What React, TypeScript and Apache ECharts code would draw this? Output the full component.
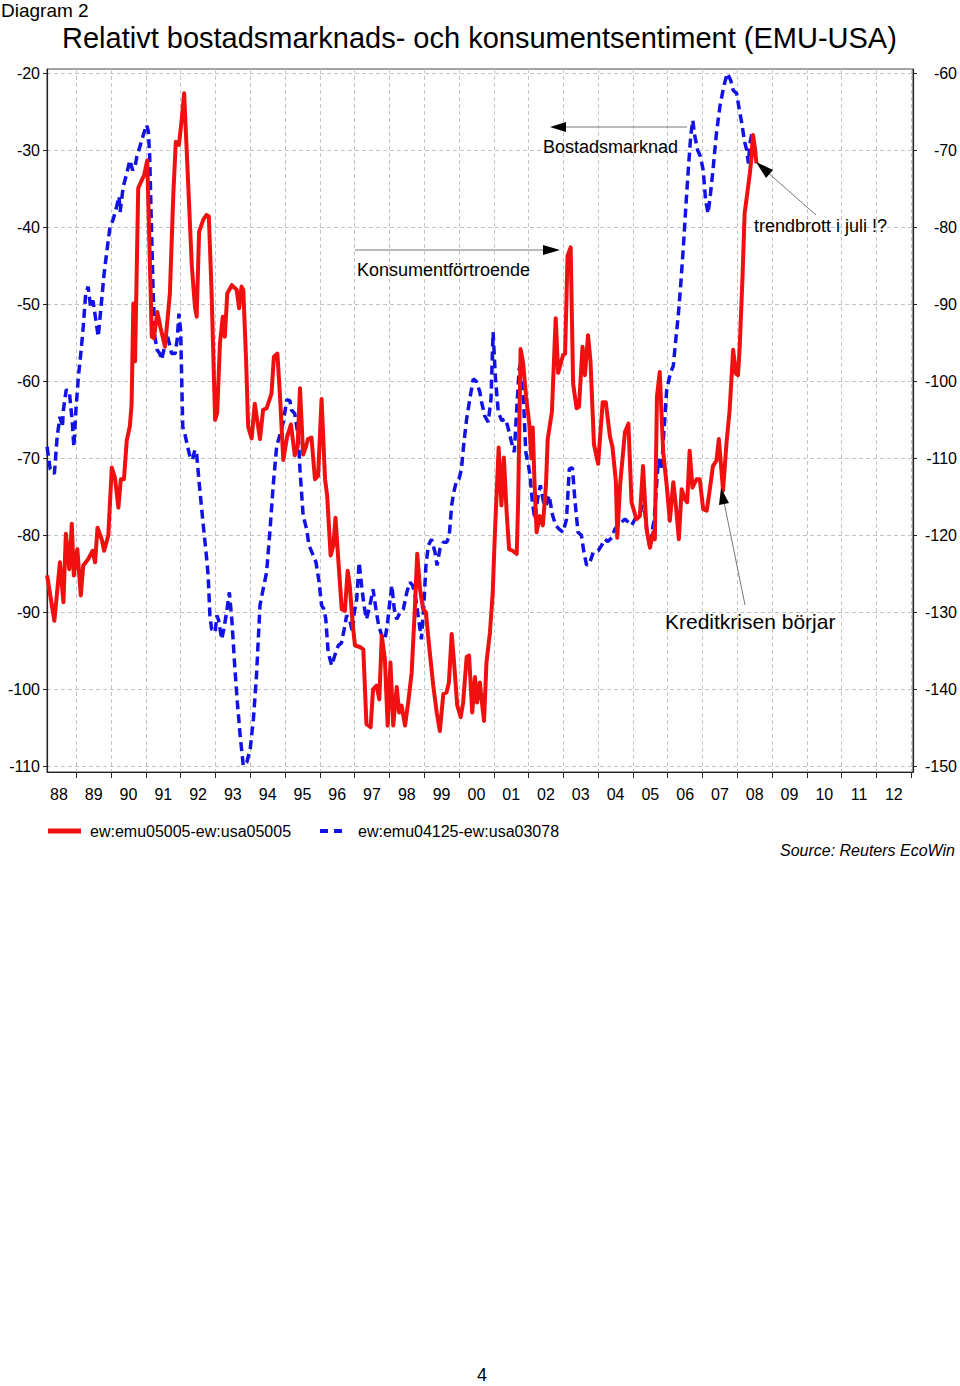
import React, { useEffect, useRef } from 'react';
import * as echarts from 'echarts';

// ---------- data ----------
const xLabels = ['88','89','90','91','92','93','94','95','96','97','98','99','00','01','02','03','04','05','06','07','08','09','10','11','12'];
const firstLabelYear = 1988;
const leftTicks = [-110, -100, -90, -80, -70, -60, -50, -40, -30, -20];
const rightTicks = [-150, -140, -130, -120, -110, -100, -90, -80, -70, -60];

const redName = 'ew:emu05005-ew:usa05005';
const blueName = 'ew:emu04125-ew:usa03078';

// red series (left axis), time in decimal years
const redDates = [
  1988.16,1988.37,1988.53,1988.63,1988.70,1988.80,1988.87,1988.93,1989.03,1989.13,1989.20,1989.34,1989.47,1989.54,1989.61,1989.73,1989.80,1989.92,
  1990.02,1990.11,1990.21,1990.28,1990.37,1990.45,1990.54,1990.59,1990.64,1990.69,1990.78,1990.95,1991.04,1991.17,1991.23,1991.33,1991.42,1991.55,
  1991.69,1991.79,1991.86,1991.95,1992.03,1992.10,1992.22,1992.32,1992.41,1992.46,1992.53,1992.65,1992.74,1992.81,1992.89,1992.99,1993.05,1993.13,
  1993.21,1993.27,1993.34,1993.47,1993.61,1993.68,1993.75,1993.80,1993.88,1993.94,1994.04,1994.13,1994.28,1994.37,1994.47,1994.61,1994.68,1994.78,
  1994.85,1994.95,1995.06,1995.17,1995.28,1995.36,1995.43,1995.52,1995.60,1995.66,1995.76,1995.86,1995.95,1996.05,1996.15,1996.21,1996.31,1996.39,
  1996.45,1996.53,1996.63,1996.72,1996.80,1996.86,1996.94,1997.01,1997.15,1997.25,1997.34,1997.46,1997.53,1997.63,1997.71,1997.78,1997.87,1997.95,
  1998.03,1998.11,1998.21,1998.28,1998.35,1998.45,1998.54,1998.64,1998.73,1998.80,1998.88,1998.97,1999.05,1999.14,1999.26,1999.36,1999.45,1999.55,
  1999.64,1999.71,1999.79,1999.85,1999.95,2000.05,2000.12,2000.22,2000.29,2000.38,2000.46,2000.52,2000.60,2000.65,2000.72,2000.79,2000.89,2000.97,
  2001.03,2001.14,2001.22,2001.29,2001.37,2001.44,2001.54,2001.66,2001.70,2001.77,2001.84,2001.93,2002.02,2002.08,2002.12,2002.17,2002.23,2002.32,
  2002.41,2002.50,2002.55,2002.67,2002.78,2002.85,2002.99,2003.05,2003.12,2003.21,2003.28,2003.38,2003.45,2003.55,2003.62,2003.71,2003.78,2003.88,
  2004.00,2004.13,2004.22,2004.34,2004.41,2004.51,2004.55,2004.63,2004.77,2004.87,2004.96,2005.10,2005.20,2005.29,2005.39,2005.49,2005.58,2005.63,
  2005.69,2005.77,2005.87,2005.97,2006.06,2006.16,2006.24,2006.32,2006.40,2006.49,2006.56,2006.63,2006.71,2006.83,2006.92,2007.02,2007.12,2007.21,
  2007.30,2007.40,2007.47,2007.52,2007.59,2007.69,2007.78,2007.88,2007.96,2008.02,2008.07,2008.15,2008.21,2008.26,2008.36,2008.40,2008.45,2008.50,
  2008.55,
];
const redValues = [
  -85.2,-91.1,-83.5,-88.7,-79.8,-84.4,-78.5,-85.2,-81.8,-87.8,-83.9,-83.1,-82.0,-83.5,-79.0,-80.5,-82.0,-80.0,
  -71.2,-72.5,-76.4,-72.7,-72.7,-67.7,-65.8,-63.0,-49.9,-57.4,-34.9,-33.2,-31.3,-54.2,-54.4,-51.0,-53.0,-55.5,
  -48.6,-35.6,-28.9,-29.3,-26.0,-22.6,-34.7,-45.0,-50.3,-51.6,-40.6,-39.0,-38.4,-38.6,-48.6,-65.0,-64.1,-55.0,
  -51.6,-54.2,-48.6,-47.5,-48.1,-50.5,-47.7,-48.1,-57.2,-65.9,-67.4,-62.9,-67.5,-63.7,-63.5,-61.6,-56.8,-56.4,
  -61.5,-70.2,-67.2,-65.6,-69.6,-68.5,-60.9,-69.5,-68.5,-67.5,-67.3,-72.7,-72.3,-62.3,-72.7,-74.8,-82.6,-81.3,
  -77.7,-83.1,-89.6,-89.8,-84.6,-86.5,-91.3,-94.3,-94.5,-94.8,-104.5,-104.9,-100.0,-99.5,-101.3,-93.0,-96.1,-104.7,
  -96.5,-104.7,-99.7,-103.0,-102.1,-104.7,-101.7,-97.8,-89.6,-82.4,-87.0,-89.6,-90.0,-94.3,-99.5,-103.0,-105.4,-100.6,
  -100.4,-99.1,-92.8,-96.0,-102.1,-103.6,-101.7,-95.8,-95.6,-103.0,-98.4,-101.7,-99.1,-101.3,-104.1,-96.5,-92.6,-87.4,
  -80.0,-68.6,-76.1,-69.9,-77.0,-81.8,-82.0,-82.4,-75.7,-55.8,-57.5,-62.0,-65.5,-70.0,-66.0,-73.0,-79.6,-77.5,
  -78.7,-73.5,-67.5,-64.0,-51.8,-58.9,-56.6,-56.4,-43.7,-42.6,-60.3,-63.5,-63.3,-55.5,-59.2,-54.0,-57.4,-68.2,
  -70.7,-62.7,-62.7,-67.2,-68.5,-73.0,-80.3,-73.5,-66.6,-65.5,-75.7,-77.9,-77.5,-71.0,-79.2,-81.6,-79.6,-80.5,
  -62.0,-58.8,-69.2,-73.5,-78.1,-73.1,-76.4,-80.5,-74.0,-75.3,-75.7,-69.0,-73.8,-72.7,-72.7,-76.6,-76.8,-74.0,
  -71.0,-70.3,-67.5,-70.2,-74.2,-68.0,-63.7,-55.9,-59.0,-59.2,-55.5,-46.4,-38.2,-36.5,-33.0,-31.3,-28.0,-29.5,
  -31.7,
];

// blue series (right axis)
const blueDates = [
  1988.16,1988.25,1988.37,1988.45,1988.53,1988.60,1988.63,1988.71,1988.80,1988.85,1988.88,1988.93,1988.99,1989.06,1989.13,1989.20,1989.27,1989.34,
  1989.41,1989.48,1989.56,1989.63,1989.73,1989.80,1989.87,1989.97,1990.06,1990.16,1990.23,1990.26,1990.35,1990.45,1990.54,1990.62,1990.69,1990.74,
  1990.83,1990.94,1991.02,1991.07,1991.11,1991.16,1991.21,1991.26,1991.32,1991.40,1991.45,1991.52,1991.60,1991.67,1991.74,1991.84,1991.90,1991.95,
  1992.00,1992.06,1992.12,1992.20,1992.27,1992.34,1992.41,1992.46,1992.53,1992.65,1992.73,1992.79,1992.84,1992.89,1992.99,1993.04,1993.09,1993.18,
  1993.24,1993.32,1993.40,1993.47,1993.56,1993.63,1993.71,1993.80,1993.90,1994.00,1994.09,1994.18,1994.28,1994.37,1994.47,1994.57,1994.66,1994.76,
  1994.85,1994.95,1995.05,1995.14,1995.18,1995.28,1995.38,1995.43,1995.52,1995.62,1995.69,1995.81,1995.89,1995.98,1996.05,1996.11,1996.17,1996.24,
  1996.34,1996.43,1996.53,1996.62,1996.70,1996.77,1996.86,1996.94,1996.99,1997.06,1997.13,1997.20,1997.27,1997.34,1997.44,1997.53,1997.61,1997.69,
  1997.78,1997.87,1997.94,1998.00,1998.07,1998.14,1998.21,1998.31,1998.40,1998.50,1998.59,1998.67,1998.76,1998.84,1998.92,1998.99,1999.05,1999.12,
  1999.21,1999.31,1999.37,1999.45,1999.55,1999.65,1999.72,1999.79,1999.85,1999.93,2000.00,2000.07,2000.14,2000.22,2000.31,2000.41,2000.50,2000.60,
  2000.65,2000.74,2000.84,2000.92,2000.98,2001.05,2001.13,2001.23,2001.34,2001.42,2001.51,2001.59,2001.66,2001.73,2001.79,2001.86,2001.92,2002.00,
  2002.04,2002.11,2002.18,2002.27,2002.34,2002.43,2002.50,2002.59,2002.69,2002.78,2002.88,2002.99,2003.09,2003.17,2003.26,2003.33,2003.42,2003.52,
  2003.59,2003.67,2003.76,2003.86,2004.00,2004.10,2004.19,2004.28,2004.39,2004.48,2004.57,2004.67,2004.77,2004.87,2004.96,2005.06,2005.18,2005.28,
  2005.34,2005.41,2005.49,2005.56,2005.61,2005.68,2005.73,2005.78,2005.82,2005.87,2005.97,2006.08,2006.16,2006.24,2006.30,2006.37,2006.45,2006.52,
  2006.59,2006.66,2006.72,2006.78,2006.86,2006.94,2007.02,2007.09,2007.16,2007.23,2007.30,2007.40,2007.50,2007.61,2007.71,2007.81,2007.88,2007.98,
  2008.06,2008.13,2008.20,2008.27,2008.32,2008.36,2008.42,2008.48,2008.53,
];
const blueValues = [
  -108.5,-111.4,-112.0,-107.2,-104.6,-105.9,-103.7,-101.1,-101.3,-103.7,-105.0,-108.5,-103.7,-99.4,-96.4,-92.9,-88.6,-87.7,
  -90.3,-89.5,-92.0,-94.2,-89.4,-86.0,-83.4,-79.9,-79.0,-77.3,-76.0,-78.0,-74.7,-73.0,-71.3,-72.6,-72.1,-70.8,
  -69.5,-67.8,-66.7,-67.5,-70.8,-79.9,-88.6,-94.2,-95.9,-96.4,-97.2,-95.9,-93.8,-95.0,-96.4,-96.4,-94.6,-91.2,
  -93.5,-105.9,-106.8,-108.5,-109.8,-110.2,-108.9,-109.5,-113.1,-118.7,-122.2,-125.2,-130.4,-132.2,-132.6,-130.4,-131.0,-133.5,
  -132.2,-130.0,-127.4,-130.9,-137.4,-141.7,-146.0,-149.9,-149.5,-147.7,-143.9,-138.2,-129.1,-127.0,-124.8,-119.2,-113.5,-108.4,
  -107.0,-105.3,-102.4,-102.5,-103.7,-104.2,-107.2,-111.5,-117.4,-119.2,-121.3,-122.6,-123.5,-126.1,-129.1,-129.5,-130.8,-135.2,
  -136.9,-135.6,-134.3,-134.0,-132.2,-130.4,-131.0,-132.6,-130.0,-128.3,-123.5,-126.5,-129.1,-130.9,-129.1,-127.0,-129.5,-131.7,
  -133.0,-133.5,-131.7,-129.1,-126.5,-129.6,-130.9,-130.0,-129.6,-127.4,-126.1,-126.5,-128.3,-130.9,-133.5,-129.1,-123.9,-121.3,
  -120.5,-122.2,-123.9,-121.8,-120.9,-120.9,-120.0,-116.1,-114.4,-112.9,-112.7,-111.4,-108.0,-104.9,-102.3,-99.7,-100.0,-101.4,
  -102.7,-104.5,-105.3,-102.3,-93.6,-99.7,-104.0,-105.1,-104.9,-106.2,-107.9,-109.2,-103.6,-98.4,-97.5,-103.0,-109.2,-111.0,
  -112.2,-115.7,-117.9,-115.0,-113.5,-115.7,-116.2,-114.8,-117.4,-118.7,-119.2,-119.6,-117.9,-111.4,-111.2,-115.3,-119.6,-120.0,
  -122.2,-123.9,-123.5,-122.2,-122.0,-121.3,-120.5,-120.8,-120.3,-119.2,-118.7,-118.3,-117.9,-118.3,-118.7,-117.9,-117.4,-116.1,
  -117.0,-119.6,-121.6,-119.2,-118.0,-113.5,-110.1,-110.8,-111.5,-108.0,-101.1,-98.9,-98.0,-94.2,-91.6,-87.7,-82.5,-77.3,
  -72.6,-68.2,-66.1,-68.2,-70.0,-70.8,-72.6,-76.5,-78.2,-75.6,-72.6,-67.8,-64.3,-61.7,-60.0,-60.9,-62.2,-62.6,
  -64.8,-66.5,-68.7,-70.0,-71.7,-69.1,-67.8,-69.5,-70.4,
];

// ---------- styles ----------
const FONT = '"Liberation Sans", Arial, Helvetica, sans-serif';
const RED = '#f01010';
const BLUE = '#1212e6';
const GRID_LINE = { show: true, lineStyle: { color: '#c4c4c4', type: [4, 3] as any, width: 1 } };

function zip(a: number[], b: number[]) {
  return a.map((v, i) => [v, b[i]]);
}

function buildOption(): echarts.EChartsOption {
  const yearTicks = xLabels.map((_, i) => firstLabelYear + i + 1);
  const labelPos = xLabels.map((_, i) => firstLabelYear + i + 0.5);
  const titleText = (size: number, italic = false) => ({
    fontFamily: FONT, fontSize: size, fontWeight: 'normal', fontStyle: italic ? 'italic' : 'normal', color: '#000',
  });
  return {
    animation: false,
    backgroundColor: '#ffffff',
    textStyle: { fontFamily: FONT, color: '#000' },
    title: [
      { text: 'Diagram 2', left: 1, top: 1, padding: 0, textStyle: titleText(19) },
      { text: 'Relativt bostadsmarknads- och konsumentsentiment (EMU-USA)', left: 62, top: 23, padding: 0, textStyle: titleText(29) },
      { text: 'Source: Reuters EcoWin', right: 5, top: 842, padding: 0, textStyle: titleText(16, true) },
      { text: '4', left: 477, top: 1366, padding: 0, textStyle: titleText(18) },
    ],
    legend: [
      {
        left: 48,
        top: 823,
        itemWidth: 33,
        itemHeight: 5,
        padding: 0,
        textStyle: { fontFamily: FONT, fontSize: 16, color: '#000', padding: [0, 0, 0, 4] },
        data: [{ name: redName, icon: 'rect' }],
      },
      {
        left: 320,
        top: 823,
        itemWidth: 22,
        itemHeight: 4,
        padding: 0,
        textStyle: { fontFamily: FONT, fontSize: 16, color: '#000', padding: [0, 0, 0, 11] },
        data: [{ name: blueName, icon: 'path://M0,0h8v4h-8z M14,0h8v4h-8z' }],
      },
    ],
    grid: {
      left: 47,
      right: 46,
      top: 69,
      bottom: 614,
      show: true,
      borderColor: '#444',
      borderWidth: 1,
      containLabel: false,
    },
    xAxis: {
      type: 'value',
      min: 1988.158,
      max: 2013.05,
      axisLine: { show: true, onZero: false, lineStyle: { color: '#222', width: 1.2 } },
      axisTick: { show: true, length: 6, inside: false, lineStyle: { color: '#222' }, customValues: yearTicks } as any,
      axisLabel: {
        show: true,
        margin: 14,
        fontSize: 16,
        fontFamily: FONT,
        color: '#000',
        customValues: labelPos,
        formatter: (v: number) => xLabels[Math.round(v - 0.5) - firstLabelYear] ?? '',
      } as any,
      splitLine: GRID_LINE as any,
    },
    yAxis: [
      {
        type: 'value',
        position: 'left',
        min: -110.73,
        max: -19.44,
        axisLine: { show: true, lineStyle: { color: '#222', width: 1.2 } },
        axisTick: { show: true, length: 4, lineStyle: { color: '#222' }, customValues: leftTicks } as any,
        axisLabel: { margin: 7, fontSize: 16, fontFamily: FONT, color: '#000', customValues: leftTicks, formatter: (v: number) => String(Math.round(v)) } as any,
        splitLine: GRID_LINE as any,
      },
      {
        type: 'value',
        position: 'right',
        min: -150.73,
        max: -59.44,
        axisLine: { show: true, lineStyle: { color: '#222', width: 1.2 } },
        axisTick: { show: true, length: 4, lineStyle: { color: '#222' }, customValues: rightTicks } as any,
        axisLabel: { margin: 44, align: 'right', fontSize: 16, fontFamily: FONT, color: '#000', customValues: rightTicks, formatter: (v: number) => String(Math.round(v)) } as any,
        splitLine: { show: false },
      },
    ],
    series: [
      {
        name: redName,
        type: 'line',
        yAxisIndex: 0,
        data: zip(redDates, redValues),
        showSymbol: false,
        symbol: 'none',
        lineStyle: { color: RED, width: 4, join: 'round' },
        itemStyle: { color: RED },
        z: 3,
      },
      {
        name: blueName,
        type: 'line',
        yAxisIndex: 1,
        data: zip(blueDates, blueValues),
        showSymbol: false,
        symbol: 'none',
        lineStyle: { color: BLUE, width: 3.5, type: [9, 5] as any },
        itemStyle: { color: BLUE },
        z: 2,
      },
    ],
    graphic: [
      // Bostadsmarknad arrow (points left)
      { type: 'line', shape: { x1: 562, y1: 127, x2: 687, y2: 127 }, style: { stroke: '#777', lineWidth: 1 }, z: 10 },
      { type: 'polygon', shape: { points: [[550, 127], [566, 122], [566, 132]] }, style: { fill: '#000' }, z: 10 },
      { type: 'text', left: 543, top: 138, style: { text: 'Bostadsmarknad', font: `18px ${FONT}`, fill: '#000' }, z: 10 },
      // Konsumentförtroende arrow (points right)
      { type: 'line', shape: { x1: 355, y1: 250, x2: 546, y2: 250 }, style: { stroke: '#777', lineWidth: 1 }, z: 10 },
      { type: 'polygon', shape: { points: [[560, 250], [543, 245], [543, 255]] }, style: { fill: '#000' }, z: 10 },
      { type: 'text', left: 357, top: 261, style: { text: 'Konsumentförtroende', font: `18px ${FONT}`, fill: '#000' }, z: 10 },
      // trendbrott arrow
      { type: 'line', shape: { x1: 816, y1: 215, x2: 766, y2: 171 }, style: { stroke: '#777', lineWidth: 1 }, z: 10 },
      { type: 'polygon', shape: { points: [[756, 162], [773, 170], [766, 178]] }, style: { fill: '#000' }, z: 10 },
      { type: 'text', left: 754, top: 217, style: { text: 'trendbrott i juli !?', font: `18px ${FONT}`, fill: '#000' }, z: 10 },
      // Kreditkrisen arrow
      { type: 'line', shape: { x1: 745, y1: 605, x2: 724, y2: 502 }, style: { stroke: '#777', lineWidth: 1 }, z: 10 },
      { type: 'polygon', shape: { points: [[721, 488], [719, 505], [729, 503]] }, style: { fill: '#000' }, z: 10 },
      { type: 'text', left: 665, top: 611, style: { text: 'Kreditkrisen börjar', font: `21px ${FONT}`, fill: '#000' }, z: 10 },
    ],
  } as any;
}

export default function App() {
  const ref = useRef<HTMLDivElement>(null);
  useEffect(() => {
    if (!ref.current) return;
    const chart = echarts.init(ref.current, null, { renderer: 'svg' });
    chart.setOption(buildOption());
    return () => chart.dispose();
  }, []);
  return (
    <div
      ref={ref}
      style={{ position: 'absolute', left: 0, top: 0, width: 960, height: 1386, background: '#fff' }}
    />
  );
}
